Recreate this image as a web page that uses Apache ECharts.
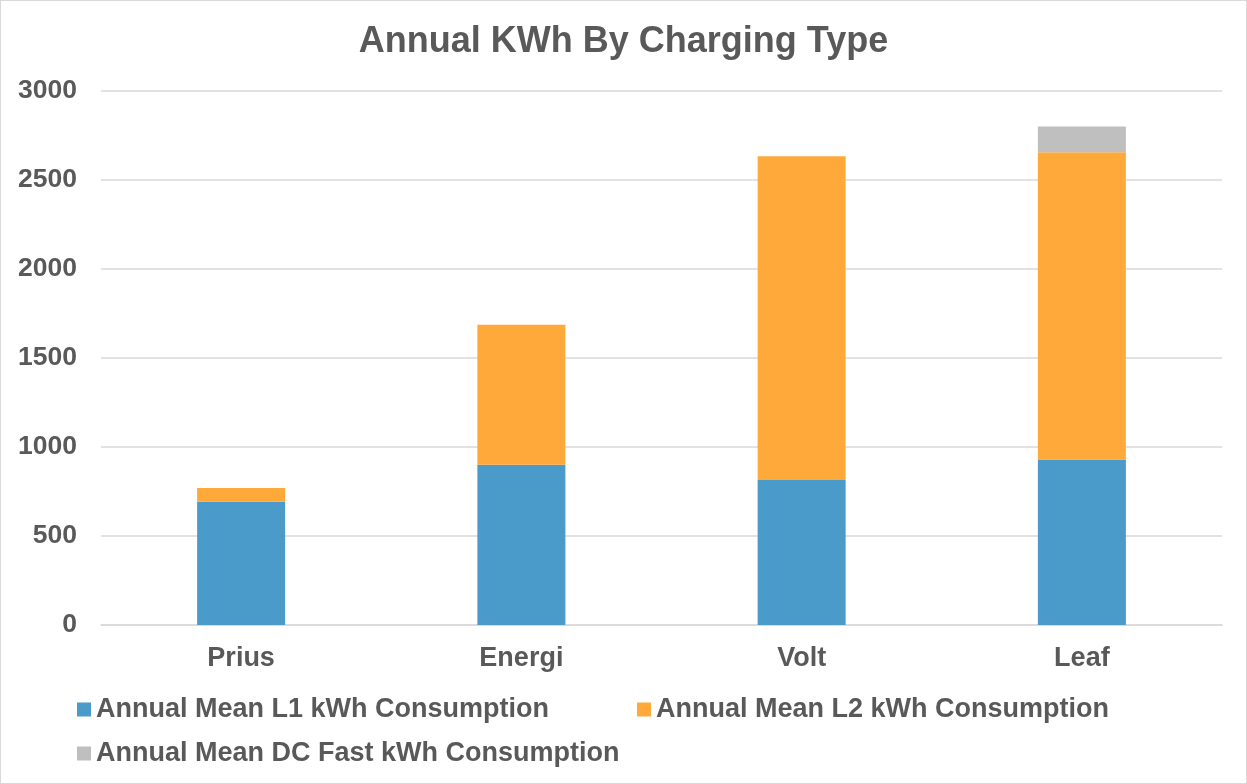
<!DOCTYPE html>
<html><head><meta charset="utf-8">
<script src="https://cdn.jsdelivr.net/npm/echarts@6/dist/echarts.min.js"></script>
<style>html,body{margin:0;padding:0;background:#fff}#c{width:1247px;height:784px;box-sizing:border-box;border:1px solid #d9d9d9}</style>
</head><body><div id="c"></div>
<script>
const categories = ['Prius', 'Energi', 'Volt', 'Leaf'];
const l1Values = [693, 900, 814, 930];
const l2Values = [77, 787, 1819, 1726];
const dcValues = [0, 0, 0, 145];
const seriesNames = ['Annual Mean L1 kWh Consumption', 'Annual Mean L2 kWh Consumption', 'Annual Mean DC Fast kWh Consumption'];
const colors = ['#4a9bca', '#ffa93b', '#bfbfbf'];
const yTicks = [0, 500, 1000, 1500, 2000, 2500, 3000];

const font = 'Liberation Sans, Arial, sans-serif';
const textColor = '#595959';
const chart = echarts.init(document.getElementById('c'));
const legendText = {fontFamily: font, fontWeight: 'bold', fontSize: 27, color: textColor};
const mkLegend = (name, left, top) => ({
  data: [name], left, top, icon: 'rect', itemWidth: 14, itemHeight: 14, itemGap: 0,
  textStyle: legendText, padding: 0, selectedMode: false
});
chart.setOption({
  animation: false,
  color: colors,
  title: {
    text: 'Annual KWh By Charging Type', left: 'center', top: 18,
    textStyle: {fontFamily: font, fontWeight: 'bold', fontSize: 36, color: textColor}
  },
  legend: [
    mkLegend(seriesNames[0], 76, 695),
    mkLegend(seriesNames[1], 636, 695),
    mkLegend(seriesNames[2], 76, 739)
  ],
  grid: {left: 100, right: 24, top: 90, bottom: 158, containLabel: false},
  xAxis: {
    type: 'category', data: categories,
    axisLine: {lineStyle: {color: '#d9d9d9', width: 1.5}},
    axisTick: {show: false},
    axisLabel: {fontFamily: font, fontWeight: 'bold', fontSize: 27, color: textColor, margin: 20}
  },
  yAxis: {
    type: 'value', min: 0, max: 3000, interval: 500,
    axisLine: {show: false}, axisTick: {show: false},
    splitLine: {lineStyle: {color: '#d9d9d9', width: 1.5}},
    axisLabel: {fontFamily: font, fontWeight: 'bold', fontSize: 26.5, color: textColor, margin: 24,
      formatter: v => yTicks.includes(v) ? String(v) : ''}
  },
  series: [
    {name: seriesNames[0], type: 'bar', stack: 't', data: l1Values, barWidth: 88},
    {name: seriesNames[1], type: 'bar', stack: 't', data: l2Values, barWidth: 88},
    {name: seriesNames[2], type: 'bar', stack: 't', data: dcValues, barWidth: 88}
  ]
});
</script></body></html>
